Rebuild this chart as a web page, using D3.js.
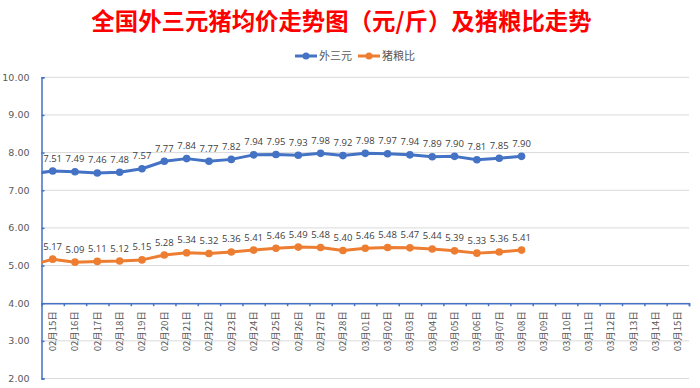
<!DOCTYPE html>
<html>
<head>
<meta charset="utf-8">
<script src="https://cdn.jsdelivr.net/npm/d3@7"></script>
<style>
  html, body { margin: 0; padding: 0; background: #fff; }
  svg { display: block; }
</style>
</head>
<body>
<svg id="chart" width="700" height="388"></svg>
<script>
// ---------------- data ----------------
const categories = [
  "02月15日","02月16日","02月17日","02月18日","02月19日","02月20日","02月21日",
  "02月22日","02月23日","02月24日","02月25日","02月26日","02月27日","02月28日",
  "03月01日","03月02日","03月03日","03月04日","03月05日","03月06日","03月07日",
  "03月08日","03月09日","03月10日","03月11日","03月12日","03月13日","03月14日","03月15日"
];
const seriesNames = ["外三元", "猪粮比"];
// value of the day before the first category (line runs in from the left edge)
const prevValues = [7.43, 5.00];
const waisanyuan = [7.51,7.49,7.46,7.48,7.57,7.77,7.84,7.77,7.82,7.94,7.95,7.93,7.98,7.92,
                    7.98,7.97,7.94,7.89,7.90,7.81,7.85,7.90];
const zhuliangbi = [5.17,5.09,5.11,5.12,5.15,5.28,5.34,5.32,5.36,5.41,5.46,5.49,5.48,5.40,
                    5.46,5.48,5.47,5.44,5.39,5.33,5.36,5.41];
const yTicks = [2,3,4,5,6,7,8,9,10];
const colors = ["#4472C4", "#ED7D31"];
const titleText = "全国外三元猪均价走势图（元/斤）及猪粮比走势";

(function () {
// ---------------- layout ----------------
const svg = d3.select("#chart");
const pLeft = 41.5, pRight = 689, pTop = 77.3, pBottom = 378.5;
const x = d3.scaleLinear().domain([0, categories.length]).range([pLeft, pRight]);
const y = d3.scaleLinear().domain([2, 10]).range([pBottom, pTop]);
const cx = i => x(i + 0.5);
const font = "'Noto Sans CJK SC', 'Noto Sans', sans-serif";

// title
svg.append("text")
  .attr("x", 341.5).attr("y", 30)
  .attr("text-anchor", "middle")
  .attr("font-family", font)
  .attr("font-weight", "bold")
  .attr("font-size", 23.4)
  .attr("fill", "#FF0000")
  .text(titleText);

// legend
const legendX = [295, 358];
seriesNames.forEach((name, k) => {
  const g = svg.append("g").attr("transform", `translate(${legendX[k]},56)`);
  g.append("line").attr("x1", 0).attr("x2", 22).attr("y1", 0).attr("y2", 0)
    .attr("stroke", colors[k]).attr("stroke-width", 3);
  g.append("circle").attr("cx", 11).attr("cy", 0).attr("r", 3.5).attr("fill", colors[k]);
  g.append("text").attr("x", 24).attr("y", 4)
    .attr("font-family", font).attr("font-size", 11).attr("fill", "#595959")
    .text(name);
});

// gridlines
svg.append("g").selectAll("line").data(yTicks).join("line")
  .attr("x1", pLeft).attr("x2", pRight)
  .attr("y1", d => y(d)).attr("y2", d => y(d))
  .attr("stroke", "#D9D9D9").attr("stroke-width", 1);

// y axis
const yAxis = d3.axisLeft(y).tickValues(yTicks).tickFormat(d3.format(".2f")).tickSize(-3).tickPadding(12);
const yg = svg.append("g").attr("transform", `translate(${pLeft},0)`).call(yAxis);
yg.select(".domain").attr("stroke", "#4472C4").attr("stroke-width", 1.5);
yg.selectAll(".tick line").attr("stroke", "#4472C4").attr("stroke-width", 1.5);
yg.selectAll(".tick text").attr("font-family", "'DejaVu Sans', sans-serif")
  .attr("font-size", 9.5).attr("fill", "#595959");

// x axis at y = 4
const xAxis = d3.axisBottom(x).tickValues(d3.range(1, categories.length + 1)).tickSize(3).tickFormat("");
const xg = svg.append("g").attr("transform", `translate(0,${y(4)})`).call(xAxis);
xg.select(".domain").attr("stroke", "#4472C4").attr("stroke-width", 1.5);
xg.selectAll(".tick line").attr("stroke", "#4472C4").attr("stroke-width", 1.5);

// x labels rotated
svg.append("g").selectAll("text").data(categories).join("text")
  .attr("transform", (d, i) => `translate(${cx(i) + 3.5},${y(4) + 8}) rotate(-90)`)
  .attr("text-anchor", "end")
  .attr("font-family", font).attr("font-size", 9.5).attr("fill", "#595959")
  .text(d => d);

// clip
svg.append("clipPath").attr("id", "plotclip")
  .append("rect").attr("x", pLeft).attr("y", 0).attr("width", pRight - pLeft).attr("height", 388);

// series
const allSeries = [waisanyuan, zhuliangbi];
allSeries.forEach((vals, k) => {
  const pts = [[-1, prevValues[k]]].concat(vals.map((v, i) => [i, v]));
  const line = d3.line().x(d => cx(d[0])).y(d => y(d[1]));
  svg.append("path").datum(pts)
    .attr("clip-path", "url(#plotclip)")
    .attr("d", line)
    .attr("fill", "none").attr("stroke", colors[k]).attr("stroke-width", 3)
    .attr("stroke-linejoin", "round").attr("stroke-linecap", "round");
  svg.append("g").selectAll("circle").data(vals).join("circle")
    .attr("cx", (d, i) => cx(i)).attr("cy", d => y(d))
    .attr("r", 3.8).attr("fill", colors[k]);
  svg.append("g").selectAll("text").data(vals).join("text")
    .attr("x", (d, i) => cx(i)).attr("y", d => y(d) - 9.5)
    .attr("text-anchor", "middle")
    .attr("font-family", "'Open Sans', sans-serif").attr("font-size", 9.5).attr("fill", "#404040")
    .text(d => d.toFixed(2));
});
})();
</script>
</body>
</html>
